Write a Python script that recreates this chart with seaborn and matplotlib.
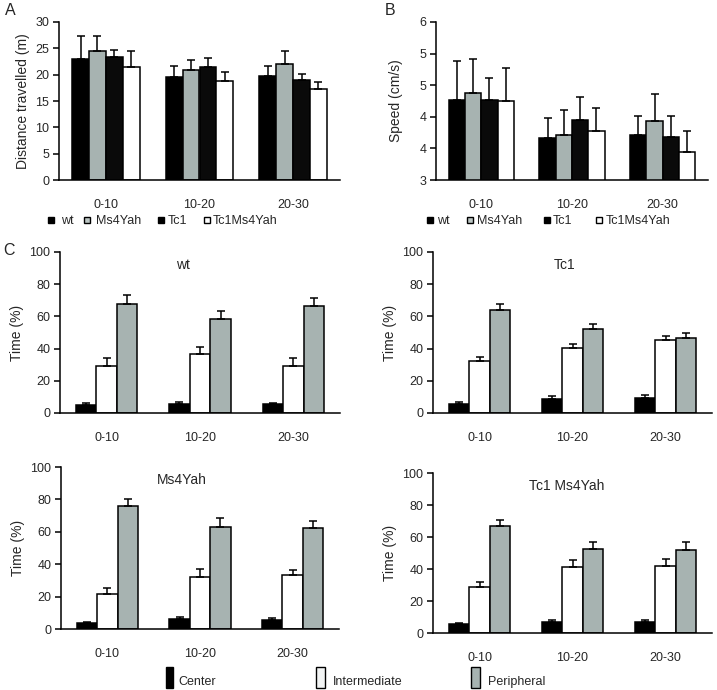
import numpy as np
import pandas as pd
import matplotlib
matplotlib.use("Agg")
import matplotlib.pyplot as plt
from matplotlib.patches import Rectangle
import seaborn as sns

sns.set_style("white")
plt.rcParams['font.family'] = ['Liberation Sans', 'DejaVu Sans']

# ---------------- data ----------------
periods = ["0-10", "10-20", "20-30"]
genotypes = ["wt", "Ms4Yah", "Tc1", "Tc1Ms4Yah"]

dist_wt = [23.0, 19.5, 19.7]
dist_ms4 = [24.4, 20.8, 22.1]
dist_tc1 = [23.4, 21.5, 19.0]
dist_tc1ms4 = [21.4, 18.8, 17.2]
dist_err_wt = [4.3, 2.1, 2.0]
dist_err_ms4 = [3.0, 1.9, 2.4]
dist_err_tc1 = [1.2, 1.6, 1.1]
dist_err_tc1ms4 = [3.0, 1.7, 1.4]

speed_wt = [4.26, 3.67, 3.71]
speed_ms4 = [4.38, 3.71, 3.93]
speed_tc1 = [4.27, 3.95, 3.68]
speed_tc1ms4 = [4.25, 3.78, 3.45]
speed_err_wt = [0.63, 0.31, 0.31]
speed_err_ms4 = [0.54, 0.39, 0.43]
speed_err_tc1 = [0.35, 0.36, 0.33]
speed_err_tc1ms4 = [0.53, 0.36, 0.32]
speed_ticks = [3.0, 3.5, 4.0, 4.5, 5.0, 5.5]
speed_ticklabels = ["3", "4", "4", "5", "5", "6"]

zones = ["Center", "Intermediate", "Peripheral"]
panel_titles = ["wt", "Tc1", "Ms4Yah", "Tc1 Ms4Yah"]

time_wt_center = [4.8, 5.8, 5.4]
time_wt_inter = [29.0, 36.6, 29.4]
time_wt_peri = [67.5, 58.4, 66.3]
time_wt_center_err = [1.6, 1.0, 0.8]
time_wt_inter_err = [5.0, 4.6, 4.6]
time_wt_peri_err = [6.0, 5.2, 4.9]

time_tc1_center = [5.4, 8.7, 9.3]
time_tc1_inter = [32.1, 40.2, 45.1]
time_tc1_peri = [63.8, 52.0, 46.4]
time_tc1_center_err = [1.2, 1.9, 2.1]
time_tc1_inter_err = [2.5, 2.9, 2.9]
time_tc1_peri_err = [3.7, 3.3, 3.3]

time_ms4_center = [3.7, 6.0, 5.8]
time_ms4_inter = [21.6, 32.1, 33.1]
time_ms4_peri = [75.9, 63.2, 62.6]
time_ms4_center_err = [0.6, 1.2, 0.8]
time_ms4_inter_err = [3.7, 4.9, 3.3]
time_ms4_peri_err = [4.3, 5.3, 4.1]

time_tc1ms4_center = [5.4, 6.9, 6.9]
time_tc1ms4_inter = [28.5, 41.3, 41.9]
time_tc1ms4_peri = [66.9, 52.3, 51.9]
time_tc1ms4_center_err = [0.6, 1.2, 1.2]
time_tc1ms4_inter_err = [3.2, 4.5, 4.4]
time_tc1ms4_peri_err = [3.9, 4.8, 4.8]

# ---------------- style ----------------
GRAY = "#a7b3b1"
LEG_GRAY = "#bcc6c4"
geno_colors = ["#000000", GRAY, "#0a0a0a", "#ffffff"]
geno_leg_colors = ["#000000", LEG_GRAY, "#000000", "#ffffff"]
zone_colors = ["#000000", "#ffffff", GRAY]
zone_leg_colors = ["#000000", "#f2f4f4", GRAY]
TICK_FS = 9
LABEL_FS = 10

W, H = 717, 690
fig = plt.figure(figsize=(W / 100, H / 100), dpi=100)


def rect(l, t, r, b):
    return [l / W, 1 - b / H, (r - l) / W, (b - t) / H]


def make_df(values, errs, levels):
    rows = []
    for lev, vals, es in zip(levels, values, errs):
        for p, v, e in zip(periods, vals, es):
            rows.append({"period": p, "group": lev, "value": v, "err": e})
    return pd.DataFrame(rows)


def style_axes(ax):
    for s in ["top", "right"]:
        ax.spines[s].set_visible(False)
    for s in ["left", "bottom"]:
        ax.spines[s].set_color("black")
        ax.spines[s].set_linewidth(1.1)
    ax.set_xlim(-0.5, 2.5)
    ax.set_xticks([0, 1, 2])
    ax.set_xticklabels(periods, fontsize=TICK_FS)
    ax.set_xticks([-0.5, 0.5, 1.5, 2.5], minor=True)
    ax.tick_params(axis="x", which="major", length=0, pad=14)
    ax.tick_params(axis="x", which="minor", length=4, width=1.1,
                   direction="out", color="black")
    ax.tick_params(axis="y", length=4, width=1.1, direction="out",
                   color="black", labelsize=TICK_FS, left=True, pad=3)
    ax.set_xlabel("")


def draw_bars(ax, df, levels, colors, width):
    sns.barplot(data=df, x="period", y="value", hue="group", order=periods,
                hue_order=levels, palette=colors, width=width, errorbar=None,
                edgecolor="black", linewidth=1.1, legend=False, ax=ax,
                saturation=1)
    for cont, lev in zip(ax.containers, levels):
        sub = df[df.group == lev].set_index("period").loc[periods]
        xs = [b.get_x() + b.get_width() / 2 for b in cont]
        ys = [b.get_height() for b in cont]
        errs = sub["err"].values
        ax.errorbar(xs, ys, yerr=[np.zeros(len(errs)), errs], fmt="none",
                    ecolor="black", elinewidth=1.1, capsize=3, capthick=1.1,
                    zorder=1)
    style_axes(ax)


def legend_entry(x_marker, w, y_top, h, color, x_text, y_text, label):
    fig.patches.append(Rectangle((x_marker / W, 1 - (y_top + h) / H), w / W, h / H,
                                 transform=fig.transFigure, facecolor=color,
                                 edgecolor="black", linewidth=1.0))
    fig.text(x_text / W, 1 - y_text / H, label, fontsize=TICK_FS,
             ha="left", va="center")


# ---------------- Panel A ----------------
axA = fig.add_axes(rect(59, 22, 340, 180))
dfA = make_df([dist_wt, dist_ms4, dist_tc1, dist_tc1ms4],
              [dist_err_wt, dist_err_ms4, dist_err_tc1, dist_err_tc1ms4],
              genotypes)
draw_bars(axA, dfA, genotypes, geno_colors, 0.72)
axA.set_ylim(0, 30)
axA.set_yticks([0, 5, 10, 15, 20, 25, 30])
axA.set_ylabel("Distance travelled (m)", fontsize=LABEL_FS, labelpad=4)
for xm, xt, c, lab in zip([48, 84, 158, 204], [61, 96, 168, 213],
                          geno_leg_colors, genotypes):
    legend_entry(xm, 6, 217, 6, c, xt, 220.5, lab)
fig.text(5 / W, 1 - 15 / H, "A", fontsize=11.5, va="baseline")

# ---------------- Panel B ----------------
axB = fig.add_axes(rect(436, 22, 708, 180))
dfB = make_df([speed_wt, speed_ms4, speed_tc1, speed_tc1ms4],
              [speed_err_wt, speed_err_ms4, speed_err_tc1, speed_err_tc1ms4],
              genotypes)
draw_bars(axB, dfB, genotypes, geno_colors, 0.72)
axB.set_ylim(3, 5.5)
axB.set_yticks(speed_ticks)
axB.set_yticklabels(speed_ticklabels)
axB.set_ylabel("Speed (cm/s)", fontsize=LABEL_FS, labelpad=12)
for xm, xt, c, lab in zip([427, 467, 544, 596], [437, 477, 553, 606],
                          geno_leg_colors, genotypes):
    legend_entry(xm, 6, 217, 6, c, xt, 220.5, lab)
fig.text(385 / W, 1 - 15 / H, "B", fontsize=11.5, va="baseline")

# ---------------- Panel C ----------------
time_sets = [
    ([time_wt_center, time_wt_inter, time_wt_peri],
     [time_wt_center_err, time_wt_inter_err, time_wt_peri_err]),
    ([time_tc1_center, time_tc1_inter, time_tc1_peri],
     [time_tc1_center_err, time_tc1_inter_err, time_tc1_peri_err]),
    ([time_ms4_center, time_ms4_inter, time_ms4_peri],
     [time_ms4_center_err, time_ms4_inter_err, time_ms4_peri_err]),
    ([time_tc1ms4_center, time_tc1ms4_inter, time_tc1ms4_peri],
     [time_tc1ms4_center_err, time_tc1ms4_inter_err, time_tc1ms4_peri_err]),
]
c_rects = [rect(60, 252, 340, 413), rect(433, 252, 712, 413),
           rect(61, 467, 339, 629), rect(433, 473, 712, 633)]
title_x = [183, 565, 182, 567]
title_lefts = [60, 433, 61, 433]
title_rights = [340, 712, 339, 712]

for (vals, errs), r, title, tx, tl, tr in zip(time_sets, c_rects, panel_titles,
                                             title_x, title_lefts, title_rights):
    ax = fig.add_axes(r)
    df = make_df(vals, errs, zones)
    draw_bars(ax, df, zones, zone_colors, 0.66)
    ax.set_ylim(0, 100)
    ax.set_yticks([0, 20, 40, 60, 80, 100])
    ax.set_ylabel("Time (%)", fontsize=LABEL_FS, labelpad=4)
    ax.text((tx - tl) / (tr - tl), 0.92, title, transform=ax.transAxes,
            ha="center", va="center", fontsize=LABEL_FS)

fig.text(3 / W, 1 - 255 / H, "C", fontsize=11.5, va="baseline")

# bottom legend
for xm, w, xt, c, lab in zip([166, 316, 471], [7, 9, 9], [178, 333, 488],
                             zone_leg_colors, zones):
    legend_entry(xm, w, 667, 21, c, xt, 682, lab)

fig.savefig("out.png", dpi=100)
